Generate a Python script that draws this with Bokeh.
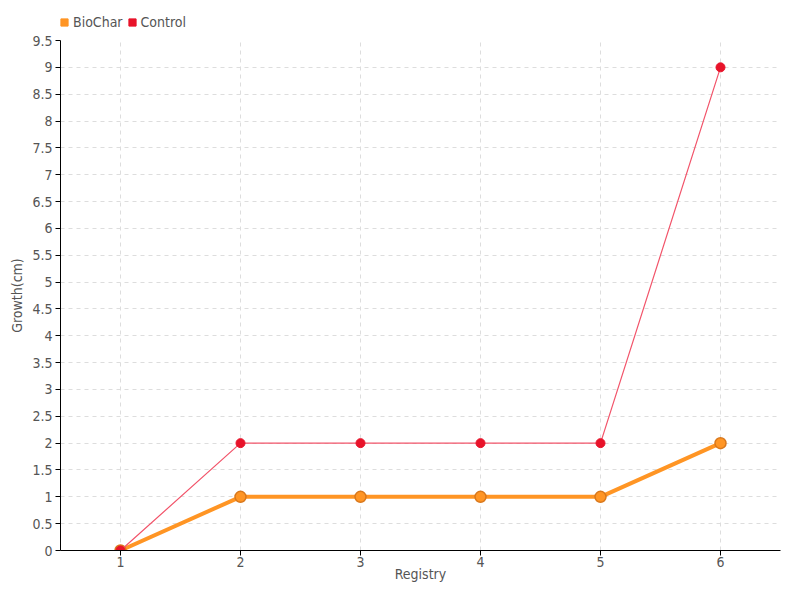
from bokeh.plotting import figure
from bokeh.layouts import column
from bokeh.models import Range1d, FixedTicker, Legend, LegendItem
from bokeh.embed import file_html
from bokeh.resources import INLINE

registry = [1, 2, 3, 4, 5, 6]
biochar = [0, 1, 1, 1, 1, 2]
control = [0, 2, 2, 2, 2, 9]
y_ticks = [i * 0.5 for i in range(20)]
y_tick_labels = {t: ("%g" % t) for t in y_ticks}

FONT = "DejaVu Sans Condensed"
ORANGE = "#ff9524"
ORANGE_DARK = "#d9781c"
RED = "#e8132a"
RED_LINE = "#f2546a"

# ---- legend strip (separate small figure above the chart) ----
leg = figure(width=784, height=32, output_backend="svg", toolbar_location=None,
             x_axis_type=None, y_axis_type=None,
             x_range=Range1d(-10, -9), y_range=Range1d(-10, -9),
             min_border=0, min_border_left=0, min_border_right=0,
             min_border_top=0, min_border_bottom=0)
leg.grid.visible = False
leg.outline_line_color = None
lg1 = leg.scatter(registry, biochar, marker="square", fill_color=ORANGE, line_color=ORANGE)
lg2 = leg.scatter(registry, control, marker="square", fill_color=RED, line_color=RED)
legend = Legend(items=[LegendItem(label="BioChar", renderers=[lg1]),
                       LegendItem(label="Control", renderers=[lg2])],
                orientation="horizontal", location=(-5, 1),
                label_text_font=FONT, label_text_font_size="14px", label_text_color="#555555",
                glyph_width=18, glyph_height=18, label_standoff=0, spacing=0,
                padding=0, margin=0, border_line_color=None, background_fill_alpha=0,
                label_height=14)
leg.add_layout(legend)

# ---- main chart ----
p = figure(width=784, height=552, output_backend="svg", toolbar_location=None,
           x_range=Range1d(0.5, 6.5), y_range=Range1d(0, 9.5),
           min_border_left=60, min_border_right=4, min_border_top=8, min_border_bottom=32)
p.outline_line_color = None
p.background_fill_color = "white"

p.line(registry, biochar, line_color=ORANGE, line_width=4)
p.scatter(registry, biochar, size=11, fill_color=ORANGE, line_color=ORANGE_DARK, line_width=1.5)
p.line(registry, control, line_color=RED_LINE, line_width=1.2)
p.scatter(registry, control, size=9, fill_color=RED, line_color=RED)

p.xaxis.ticker = FixedTicker(ticks=registry)
p.yaxis.ticker = FixedTicker(ticks=y_ticks)
p.yaxis.major_label_overrides = y_tick_labels
p.xaxis.axis_label = "Registry"
p.yaxis.axis_label = "Growth(cm)"
for ax in (p.xaxis[0], p.yaxis[0]):
    ax.axis_label_text_font = FONT
    ax.axis_label_text_font_style = "normal"
    ax.axis_label_text_font_size = "14px"
    ax.axis_label_text_color = "#555555"
    ax.major_label_text_font = FONT
    ax.major_label_text_font_size = "14px"
    ax.major_label_text_color = "#555555"
    ax.axis_line_color = "black"
    ax.major_tick_line_color = "black"
    ax.major_tick_in = 0
    ax.major_tick_out = 5
    ax.minor_tick_line_color = None
p.xaxis.major_label_standoff = 1
p.xaxis.axis_label_standoff = -4
p.yaxis.major_label_standoff = 3
p.yaxis.axis_label_standoff = 4

p.xgrid.grid_line_color = "#dddddd"
p.ygrid.grid_line_color = "#dddddd"
p.xgrid.grid_line_dash = "4 4"
p.ygrid.grid_line_dash = "4 4"

layout = column(leg, p, spacing=0)
open("out.html", "w").write(file_html(layout, INLINE))
